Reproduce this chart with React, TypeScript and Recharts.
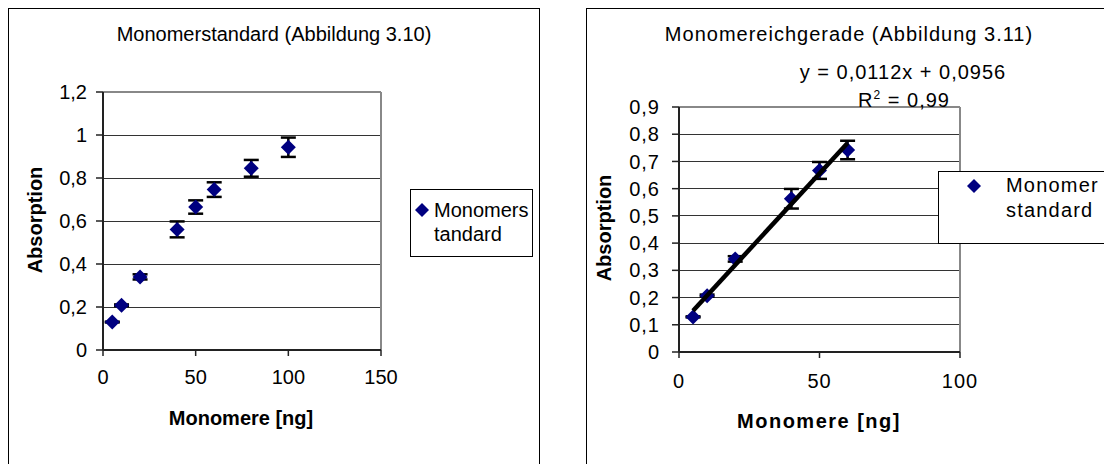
import React from 'react';
import { ScatterChart, Scatter, XAxis, YAxis, CartesianGrid, ErrorBar, ReferenceLine } from 'recharts';

// Abbildung 3.10 - Monomerstandard
const standardX = [5, 10, 20, 40, 50, 60, 80, 100];
const standardY = [0.13, 0.208, 0.34, 0.561, 0.665, 0.746, 0.845, 0.943];
const standardErr = [0.002, 0.004, 0.012, 0.037, 0.031, 0.034, 0.039, 0.045];

// Abbildung 3.11 - Monomereichgerade
const eichX = [5, 10, 20, 40, 50, 60];
const eichY = [0.129, 0.207, 0.342, 0.563, 0.667, 0.742];
const eichErr = [0.002, 0.004, 0.01, 0.036, 0.031, 0.034];
const slope = 0.0112;
const intercept = 0.0956;

const leftXTicks = [0, 50, 100, 150];
const leftYTicks = [0, 0.2, 0.4, 0.6, 0.8, 1, 1.2];
const rightXTicks = [0, 50, 100];
const rightYTicks = [0, 0.1, 0.2, 0.3, 0.4, 0.5, 0.6, 0.7, 0.8, 0.9];

const FONT = '"Liberation Sans", Arial, sans-serif';
const NAVY = '#000080';

const standardData = standardX.map((x, i) => ({ x, y: standardY[i], err: standardErr[i] }));
const eichData = eichX.map((x, i) => ({ x, y: eichY[i], err: eichErr[i] }));
const trendData = [eichX[0], eichX[eichX.length - 1]].map(x => ({ x, y: slope * x + intercept }));

const comma = (v: number) => String(v).replace('.', ',');

const Diamond = (props: any) => {
    const { cx, cy } = props;
    const r = 7.5;
    if (cx == null || cy == null) return null;
    return <polygon points={`${cx},${cy - r} ${cx + r},${cy} ${cx},${cy + r} ${cx - r},${cy}`} fill={NAVY} />;
};

const NoPoint = () => null;

const abs = (left: number, top: number, extra: React.CSSProperties = {}): React.CSSProperties => ({
    position: 'absolute', left, top, transform: 'translate(-50%, -50%)', whiteSpace: 'nowrap', ...extra,
});

function LegendMarker() {
    return (
        <svg width={16} height={16} style={{ display: 'block' }}>
            <polygon points="8,1 15,8 8,15 1,8" fill={NAVY} />
        </svg>
    );
}

export default function App() {
    const tickStyle = { fill: '#000', fontSize: 20, fontFamily: FONT };
    const tickStyleWide = { ...tickStyle, letterSpacing: 1 };
    const axisLine = { stroke: '#222', strokeWidth: 2 };
    const tickLine = { stroke: '#222', strokeWidth: 1.5 };
    const onTop: any = { zIndex: 1500 };
    const gridProps: any = { shapeRendering: 'crispEdges' };

    return (
        <div style={{ position: 'fixed', left: 0, top: 0, width: 1104, height: 464, overflow: 'hidden', background: '#fff', fontFamily: FONT, color: '#000' }}>
            {/* left chart frame */}
            <div style={{ position: 'absolute', left: 8, top: 8, width: 530, height: 480, border: '1px solid #000' }} />
            <div style={{ position: 'absolute', left: 0, top: 0 }}>
                <ScatterChart width={540} height={464} margin={{ top: 92, right: 159, left: 0, bottom: 74 }}>
                    <CartesianGrid vertical={false} stroke="#333" strokeWidth={1} {...gridProps} />
                    <XAxis type="number" dataKey="x" domain={[0, 150]} ticks={leftXTicks} interval={0} height={40}
                        tick={tickStyle} tickSize={6} tickMargin={14} axisLine={axisLine} tickLine={tickLine} />
                    <YAxis type="number" dataKey="y" domain={[0, 1.2]} ticks={leftYTicks} interval={0} width={103}
                        tick={tickStyle} tickFormatter={comma} tickSize={7} tickMargin={9}
                        axisLine={axisLine} tickLine={tickLine} />
                    <ReferenceLine y={1.2} stroke="#888" strokeWidth={2} />
                    <ReferenceLine x={150} stroke="#888" strokeWidth={2} />
                    <Scatter data={standardData} shape={NoPoint} isAnimationActive={false}>
                        <ErrorBar dataKey="err" direction="y" width={7.5} stroke="#000" strokeWidth={2.5} />
                    </Scatter>
                    <Scatter data={standardData} shape={Diamond} isAnimationActive={false} {...onTop} />
                </ScatterChart>
            </div>
            <div style={abs(274, 34, { fontSize: 20 })}>Monomerstandard (Abbildung 3.10)</div>
            <div style={abs(35, 220, { fontSize: 20, fontWeight: 'bold', transform: 'translate(-50%, -50%) rotate(-90deg)' })}>Absorption</div>
            <div style={abs(241, 418, { fontSize: 20, fontWeight: 'bold' })}>Monomere [ng]</div>
            <div style={{ position: 'absolute', left: 410, top: 189, width: 121, height: 66, border: '1px solid #000', background: '#fff', fontSize: 20, lineHeight: '24px' }}>
                <div style={{ position: 'absolute', left: 3, top: 12 }}><LegendMarker /></div>
                <div style={{ position: 'absolute', left: 23, top: 8 }}>Monomers<br />tandard</div>
            </div>

            {/* right chart frame */}
            <div style={{ position: 'absolute', left: 586, top: 8, width: 600, height: 480, border: '1px solid #000' }} />
            <div style={{ position: 'absolute', left: 540, top: 0 }}>
                <ScatterChart width={564} height={464} margin={{ top: 107, right: 144, left: 0, bottom: 72 }}>
                    <CartesianGrid vertical={false} stroke="#333" strokeWidth={1} {...gridProps} />
                    <XAxis type="number" dataKey="x" domain={[0, 100]} ticks={rightXTicks} interval={0} height={40}
                        tick={tickStyleWide} tickSize={6} tickMargin={16} axisLine={axisLine} tickLine={tickLine} />
                    <YAxis type="number" dataKey="y" domain={[0, 0.9]} ticks={rightYTicks} interval={0} width={139}
                        tick={tickStyleWide} tickFormatter={comma} tickSize={7} tickMargin={12}
                        axisLine={axisLine} tickLine={tickLine} />
                    <ReferenceLine y={0.9} stroke="#888" strokeWidth={2} />
                    <ReferenceLine x={100} stroke="#888" strokeWidth={2} />
                    <Scatter data={eichData} shape={NoPoint} isAnimationActive={false}>
                        <ErrorBar dataKey="err" direction="y" width={7.5} stroke="#000" strokeWidth={2.5} />
                    </Scatter>
                    <Scatter data={eichData} shape={Diamond} isAnimationActive={false} {...onTop} />
                    <Scatter data={trendData} shape={NoPoint} line={{ stroke: '#000', strokeWidth: 4.5 }} isAnimationActive={false} zIndex={1600} />
                </ScatterChart>
            </div>
            <div style={abs(849, 34, { fontSize: 20, letterSpacing: 1 })}>Monomereichgerade (Abbildung 3.11)</div>
            <div style={abs(903, 72, { fontSize: 20, letterSpacing: 1 })}>y = 0,0112x + 0,0956</div>
            <div style={abs(904, 100, { fontSize: 20, letterSpacing: 1 })}>R<sup style={{ fontSize: 12 }}>2</sup> = 0,99</div>
            <div style={abs(604, 228, { fontSize: 20, fontWeight: 'bold', transform: 'translate(-50%, -50%) rotate(-90deg)' })}>Absorption</div>
            <div style={abs(819, 421, { fontSize: 20, fontWeight: 'bold', letterSpacing: 1.5 })}>Monomere [ng]</div>
            <div style={{ position: 'absolute', left: 938, top: 171, width: 200, height: 71, borderTop: '1px solid #000', borderLeft: '1px solid #000', borderBottom: '1px solid #000', background: '#fff', fontSize: 20, lineHeight: '25px', letterSpacing: 1.2 }}>
                <div style={{ position: 'absolute', left: 27, top: 6 }}><LegendMarker /></div>
                <div style={{ position: 'absolute', left: 67, top: 1 }}>Monomer<br />standard</div>
            </div>
        </div>
    );
}
